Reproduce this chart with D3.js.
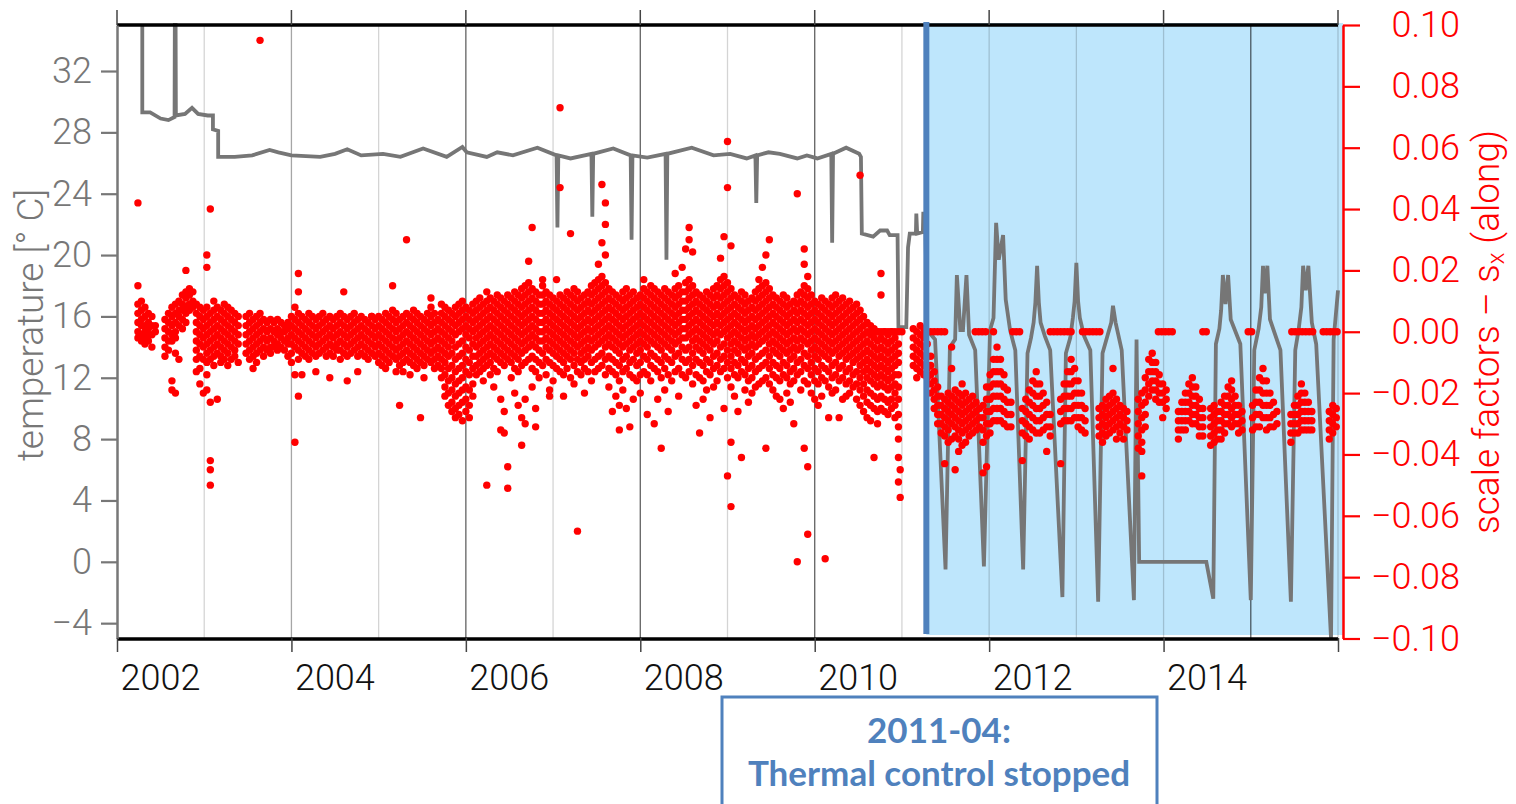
<!DOCTYPE html>
<html>
<head>
<meta charset="utf-8">
<title>Thermal control stopped</title>
<script src="https://d3js.org/d3.v7.min.js"></script>
<style>
*{margin:0;padding:0;}
body{background:#fff;}
svg{display:block;}
.ax text{font-family:Roboto,"Liberation Sans",Arial,sans-serif;font-weight:300;font-size:36px;}
.note{font-family:Lato,"Open Sans",sans-serif;font-weight:bold;font-size:35px;fill:#4f81bd;}
</style>
</head>
<body>
<svg id="chart" width="1516" height="804"></svg>
<script>
// temperature (left axis), [year, deg C]
var tempSeries = [
[2002.29,35],[2002.29,29.3],[2002.38,29.3],[2002.50,28.9],[2002.59,28.8],[2002.66,29.0],[2002.663,35],[2002.672,35],[2002.675,29.1],
[2002.78,29.2],[2002.86,29.6],[2002.93,29.2],[2003.04,29.1],[2003.10,29.1],[2003.10,28.2],[2003.16,28.1],[2003.16,26.4],
[2003.35,26.4],[2003.55,26.5],[2003.75,26.85],[2003.85,26.7],[2004.0,26.5],[2004.33,26.4],[2004.5,26.6],[2004.64,26.9],
[2004.8,26.5],[2005.05,26.6],[2005.25,26.4],[2005.51,26.95],[2005.78,26.4],[2005.96,27.05],[2006.01,26.7],[2006.24,26.4],
[2006.36,26.7],[2006.54,26.5],[2006.82,27.0],[2007.04,26.5],[2007.05,21.8],[2007.06,26.5],[2007.2,26.3],[2007.44,26.6],
[2007.45,22.5],[2007.46,26.6],[2007.69,26.95],[2007.89,26.5],[2007.9,21.0],[2007.91,26.5],[2008.08,26.35],[2008.29,26.6],
[2008.3,19.7],[2008.31,26.6],[2008.59,27.0],[2008.84,26.5],[2009.03,26.6],[2009.22,26.3],[2009.32,26.5],[2009.33,23.4],
[2009.34,26.5],[2009.47,26.7],[2009.6,26.6],[2009.8,26.3],[2009.91,26.5],[2010.03,26.3],[2010.19,26.6],[2010.2,20.8],
[2010.21,26.6],[2010.36,27.0],[2010.51,26.6],[2010.53,26.4],[2010.54,21.4],[2010.67,21.2],[2010.75,21.6],[2010.83,21.6],
[2010.86,21.3],[2010.95,21.3],[2010.96,15.3],[2011.05,15.3],[2011.07,20.5],[2011.09,21.4],[2011.16,21.4],[2011.165,22.7],
[2011.175,21.4],[2011.24,21.5],[2011.245,22.7],[2011.265,22.7],[2011.27,21.5],[2011.29,15.1],
[2011.38,14.5],[2011.50,-0.5],[2011.55,14.0],[2011.61,14.5],[2011.63,18.7],[2011.67,15.1],[2011.70,15.1],[2011.74,18.7],
[2011.77,14.8],[2011.84,13.8],[2011.94,-0.3],[2012.01,15.1],[2012.05,15.9],[2012.08,22.1],[2012.11,19.7],[2012.16,21.3],
[2012.19,17.1],[2012.24,15.1],[2012.30,13.8],[2012.39,-0.5],[2012.44,13.6],[2012.48,14.6],[2012.51,15.6],[2012.53,16.9],
[2012.55,19.3],[2012.57,16.9],[2012.59,15.6],[2012.64,14.7],[2012.70,13.8],[2012.84,-2.3],[2012.88,13.6],[2012.93,14.6],
[2012.96,15.9],[2012.98,17.0],[2013.00,19.5],[2013.02,17.0],[2013.04,15.9],[2013.09,14.7],[2013.16,13.8],[2013.25,-2.6],
[2013.30,13.6],[2013.36,14.8],[2013.40,15.6],[2013.42,16.7],[2013.45,15.6],[2013.52,13.8],[2013.66,-2.5],[2013.69,14.5],
[2013.72,0.0],[2014.49,0.0],[2014.57,-2.4],[2014.60,14.2],[2014.64,15.2],[2014.66,16.4],[2014.68,18.7],[2014.71,16.8],
[2014.74,18.7],[2014.77,15.8],[2014.88,14.2],[2015.00,-2.5],[2015.04,13.8],[2015.09,15.2],[2015.12,16.6],[2015.14,19.3],
[2015.16,17.5],[2015.19,19.3],[2015.22,15.8],[2015.34,13.8],[2015.46,-2.6],[2015.51,13.8],[2015.55,15.2],[2015.58,16.6],
[2015.60,19.3],[2015.63,17.7],[2015.66,19.3],[2015.70,15.6],[2015.75,14.2],[2015.92,-5],[2015.95,14.5],[2016.0,17.7]
];

// scale factors s_x (right axis), [year, values in 1e-3]
var sfCloud = [
[2002.24,[9,6,3,0,-2,15,42]],[2002.28,[10,7,4,2,-1,-3]],[2002.32,[8,5,2,0,-2,-4]],[2002.36,[6,3,1,-1,-3]],[2002.40,[5,2,-1,-5]],[2002.44,[2,0]],
[2002.55,[4,1,-2,-5,-8]],[2002.59,[6,3,0,-3,-6]],[2002.63,[8,5,2,-1,-3,-16,-19]],[2002.67,[9,6,3,0,-2,-7,-20]],[2002.71,[10,7,5,2,-9]],
[2002.75,[12,9,7,4,1]],[2002.79,[13,11,8,6,3,20]],[2002.83,[14,12,9,7]],[2002.87,[13,10,8]],
[2002.91,[9,6,3,0,-3,-6,-9,-13]],[2002.95,[8,5,2,-1,-4,-8,-12,-17]],[2002.99,[7,4,1,-2,-5,-9,-20]],[2003.03,[8,5,2,-1,-4,-7,-10,-14,-19,25,21]],
[2003.07,[6,3,0,-3,-6,-9,-23,40,-42,-45,-50]],[2003.11,[10,7,4,1,-2,-5,-8,-11]],[2003.15,[8,5,2,-1,-4,-7,-22]],[2003.19,[7,4,1,-2,-5,-8,-10]],
[2003.23,[9,6,3,0,-3,-6,-9]],[2003.27,[8,5,2,-1,-4,-7,-11]],[2003.31,[7,4,1,-2,-5,-9]],[2003.35,[6,3,0,-3,-6,-8]],[2003.39,[5,2,-1,-4,-10]],
[2003.48,[5,2,-1,-4,-7]],[2003.52,[6,3,0,-3,-6,-9]],[2003.56,[4,1,-2,-5,-8,-12]],[2003.60,[5,2,-1,-4,-7,-10]],[2003.64,[6,3,0,-3,-6,95]],
[2003.68,[4,1,-2,-5,-8]],[2003.72,[3,0,-3,-6]],[2003.76,[4,1,-2,-5,-7]],[2003.80,[3,0,-3,-5]],[2003.84,[4,1,-1,-4,-6]],[2003.88,[3,0,-2,-5]],
[2003.92,[2,0,-3,-6]],[2003.96,[3,1,-2,-4,-8]],[2004.00,[5,2,-1,-4,-7,-10]],[2004.04,[8,4,1,-2,-5,-14,-36]],
[2004.08,[6,3,0,-3,-6,-9,-21,19,13]],[2004.12,[5,2,-1,-4,-7,-14]],[2004.16,[4,1,-2,-5,-8]],[2004.20,[6,3,0,-3,-6,-9]],[2004.24,[5,2,-1,-4,-7]],
[2004.28,[4,1,-2,-5,-8,-13]],[2004.32,[5,2,-1,-4,-7]],[2004.36,[6,3,0,-3,-6]],[2004.40,[4,1,-2,-5,-8]],[2004.44,[5,2,-1,-4,-7,-15]],
[2004.48,[4,1,-2,-5,-8]],[2004.52,[5,2,-1,-4,-6]],[2004.56,[6,3,0,-3,-6,-9]],[2004.60,[5,2,-1,-4,-7,13]],[2004.64,[4,1,-2,-5,-8,-16]],
[2004.68,[5,2,-1,-4,-7]],[2004.72,[6,3,0,-3,-6]],[2004.76,[4,1,-2,-5,-8,-13]],[2004.80,[5,2,-1,-4,-7]],[2004.84,[4,1,-2,-5,-8]],
[2004.88,[3,0,-3,-6,-9]],[2004.92,[5,2,-1,-4,-7,5]],[2004.96,[4,1,-2,-5,-8]],
[2005.00,[5,2,-1,-4,-7,-10]],[2005.04,[4,1,-2,-5,-8,-11]],[2005.08,[6,3,0,-3,-6,-9,-12]],[2005.12,[5,2,-1,-4,-7,-10]],[2005.16,[7,4,1,-2,-5,-8,15]],
[2005.20,[6,3,0,-3,-6,-9,-13]],[2005.24,[4,1,-2,-5,-8,-11,-24]],[2005.28,[5,2,-1,-4,-7,-10,-13]],[2005.32,[6,3,0,-3,-6,-9,30]],
[2005.36,[5,2,-1,-4,-7,-10,-14]],[2005.40,[7,4,1,-2,-5,-8,-11]],[2005.44,[6,3,0,-3,-6,-9,-12]],[2005.48,[5,2,-1,-4,-7,-10,-28]],
[2005.52,[4,1,-2,-5,-8,-11,-15]],[2005.56,[6,3,0,-3,-6,-9]],[2005.60,[8,5,2,-1,-4,-7,-10,11]],[2005.64,[6,3,0,-3,-6,-9,-12]],[2005.68,[4,1,-2,-5,-8,-11]],
[2005.72,[9,6,3,0,-3,-6,-9,-12,-15]],[2005.76,[8,5,2,-1,-4,-7,-10,-14,-18,-21]],[2005.80,[7,4,1,-2,-5,-8,-12,-16,-20,-24]],
[2005.84,[6,3,0,-3,-7,-11,-15,-19,-23,-26]],[2005.88,[8,5,2,-1,-5,-9,-13,-17,-21,-25,-28]],[2005.92,[9,6,3,0,-4,-8,-12,-16,-20,-24,-27]],
[2005.96,[10,7,4,1,-3,-7,-11,-15,-19,-23,-29]],[2006.00,[8,5,2,-1,-5,-9,-13,-18,-22,-26]],[2006.04,[7,4,1,-2,-6,-10,-14,-19,-24,-28]],
[2006.08,[9,6,3,0,-4,-8,-12,-17,-21]],
[2006.12,[10,7,4,1,-2,-5,-8,-11,-14]],[2006.16,[11,8,5,2,-1,-4,-7,-10,-13]],[2006.20,[9,6,3,0,-3,-6,-9,-12,-16]],[2006.24,[13,10,7,4,1,-2,-5,-8,-11,-50]],
[2006.28,[11,8,5,2,-1,-4,-7,-10,-14]],[2006.32,[10,7,4,1,-2,-5,-8,-12,-18]],[2006.36,[12,9,6,3,0,-3,-6,-9,-13]],[2006.40,[11,8,5,2,-1,-4,-7,-10,-32,-22]],
[2006.44,[10,7,4,1,-2,-5,-8,-11,-33,-26]],[2006.48,[12,9,6,3,0,-3,-6,-9,-44,-51]],[2006.52,[11,8,5,2,-1,-4,-7,-10,-15]],[2006.56,[13,10,7,4,1,-2,-5,-8,-12,-20]],
[2006.60,[12,9,6,3,0,-3,-6,-9,-13,-24]],[2006.64,[14,11,8,5,2,-1,-4,-7,-11,-28,-37]],[2006.68,[15,12,9,6,3,0,-3,-6,-10,-22,-30]],[2006.72,[16,13,10,7,4,1,-2,-5,-9,23]],
[2006.76,[14,11,8,5,2,-1,-4,-8,-12,-18,34]],[2006.80,[13,10,7,4,1,-2,-5,-9,-13,-25,-31]],[2006.84,[12,9,6,3,0,-3,-6,-10,-15]],[2006.88,[15,12,9,6,3,0,-3,-7,-11,17]],
[2006.92,[13,10,7,4,1,-2,-5,-9,-14]],[2006.96,[12,9,6,3,0,-3,-6,-10,-19,-21]],[2007.00,[11,8,5,2,-1,-4,-7,-11,-16]],[2007.04,[10,7,4,1,-2,-5,-8,-12,17]],
[2007.08,[12,9,6,3,0,-3,-6,-9,-13,47,73]],[2007.12,[11,8,5,2,-1,-4,-7,-10,-14,-21]],[2007.16,[13,10,7,4,1,-2,-5,-8,-12]],[2007.20,[12,9,6,3,0,-3,-6,-9,-15,32]],
[2007.24,[14,11,8,5,2,-1,-4,-7,-11,-17]],[2007.28,[13,10,7,4,1,-2,-5,-9,-13,-65]],[2007.32,[11,8,5,2,-1,-4,-7,-10,-14]],[2007.36,[12,9,6,3,0,-3,-6,-9,-12,-20]],
[2007.40,[13,10,7,4,1,-2,-5,-8,-13]],[2007.44,[15,12,9,6,3,0,-3,-6,-10,-16]],[2007.48,[16,13,10,7,4,1,-2,-5,-9,-13]],[2007.52,[17,14,11,8,5,2,-1,-4,-8,-12,22]],
[2007.56,[18,15,12,9,6,3,0,-3,-7,-11,29,48]],[2007.60,[16,13,10,7,4,1,-2,-5,-9,-14,42,35,25]],[2007.64,[14,11,8,5,2,-1,-4,-8,-12,-18]],[2007.68,[13,10,7,4,1,-2,-5,-9,-13,-26]],
[2007.72,[12,9,6,3,0,-3,-6,-10,-14,-21]],[2007.76,[11,8,5,2,-1,-4,-7,-11,-16,-24,-32]],[2007.80,[13,10,7,4,1,-2,-5,-9,-13,-19]],[2007.84,[14,11,8,5,2,-1,-4,-8,-12,-25]],
[2007.88,[12,9,6,3,0,-3,-6,-10,-14,-31]],[2007.92,[13,10,7,4,1,-2,-5,-9,-15,-22]],[2007.96,[11,8,5,2,-1,-4,-7,-11,-16]],
[2008.00,[12,9,6,3,0,-3,-6,-10,-14,-20]],[2008.04,[14,11,8,5,2,-1,-4,-8,-13,17]],[2008.08,[13,10,7,4,1,-2,-5,-9,-14,-27]],[2008.12,[15,12,9,6,3,0,-3,-7,-11,-16]],
[2008.16,[14,11,8,5,2,-1,-4,-8,-12,-30]],[2008.20,[13,10,7,4,1,-2,-5,-9,-13,-22]],[2008.24,[12,9,6,3,0,-3,-6,-10,-15,-38]],[2008.28,[14,11,8,5,2,-1,-4,-8,-12,-19]],
[2008.32,[13,10,7,4,1,-2,-5,-9,-14,-26]],[2008.36,[12,9,6,3,0,-3,-6,-10,-16]],[2008.40,[14,11,8,5,2,-1,-4,-8,-13,19]],[2008.44,[15,12,9,6,3,0,-3,-7,-12,-21]],
[2008.48,[13,10,7,4,1,-2,-5,-9,-14,21]],[2008.52,[16,13,10,7,4,1,-2,-6,-10,-15,27]],[2008.56,[17,14,11,8,5,2,-1,-5,-9,-13,34,30]],[2008.60,[15,12,9,6,3,0,-3,-7,-11,-17,26]],
[2008.64,[13,10,7,4,1,-2,-5,-9,-14,-24]],[2008.68,[12,9,6,3,0,-3,-6,-10,-15,-33]],[2008.72,[11,8,5,2,-1,-4,-7,-11,-16,-22]],[2008.76,[13,10,7,4,1,-2,-5,-9,-13,-19]],
[2008.80,[12,9,6,3,0,-3,-6,-10,-14,-28]],[2008.84,[14,11,8,5,2,-1,-4,-8,-12,-18]],[2008.88,[15,12,9,6,3,0,-3,-7,-11,-16]],[2008.92,[17,14,11,8,5,2,-1,-5,-9,-13,24]],
[2008.96,[18,15,12,9,6,3,0,-4,-8,-12,31,-25]],[2009.00,[16,13,10,7,4,1,-2,-6,-10,-15,47,62,-47]],[2009.04,[14,11,8,5,2,-1,-4,-8,-12,-18,28,-57,-36]],
[2009.08,[12,9,6,3,0,-3,-6,-10,-14,-21]],[2009.12,[11,8,5,2,-1,-4,-7,-11,-15,-26]],[2009.16,[13,10,7,4,1,-2,-5,-9,-13,-41]],[2009.20,[12,9,6,3,0,-3,-6,-10,-14,-19]],
[2009.24,[10,7,4,1,-2,-5,-8,-12,-16,-23]],[2009.28,[11,8,5,2,-1,-4,-7,-11,-15,-20]],[2009.32,[13,10,7,4,1,-2,-5,-9,-13,-18]],[2009.36,[14,11,8,5,2,-1,-4,-8,-12,-17,17]],
[2009.40,[15,12,9,6,3,0,-3,-7,-11,-16,21]],[2009.44,[16,13,10,7,4,1,-2,-6,-10,-15,25,-38]],[2009.48,[14,11,8,5,2,-1,-4,-8,-12,-17,30]],[2009.52,[12,9,6,3,0,-3,-6,-10,-14,-19]],
[2009.56,[11,8,5,2,-1,-4,-7,-11,-15,-21]],[2009.60,[10,7,4,1,-2,-5,-8,-12,-16,-22]],[2009.64,[12,9,6,3,0,-3,-6,-10,-14,-25]],[2009.68,[11,8,5,2,-1,-4,-7,-11,-15,-20]],
[2009.72,[9,6,3,0,-3,-6,-9,-13,-17,-23]],[2009.76,[10,7,4,1,-2,-5,-8,-12,-16,-30]],[2009.80,[12,9,6,3,0,-3,-6,-10,-14,45,-75]],[2009.84,[13,10,7,4,1,-2,-5,-9,-13,-19]],
[2009.88,[15,12,9,6,3,0,-3,-7,-11,-16,27,22,-38]],[2009.92,[14,11,8,5,2,-1,-4,-8,-12,-17,18,-44,-66]],[2009.96,[12,9,6,3,0,-3,-6,-10,-14,-20]],
[2010.00,[10,7,4,1,-2,-5,-8,-12,-16,-22]],[2010.04,[9,6,3,0,-3,-6,-9,-13,-17,-24]],[2010.08,[11,8,5,2,-1,-4,-7,-11,-15,-21]],[2010.12,[10,7,4,1,-2,-5,-8,-12,-16,-74]],
[2010.16,[9,6,3,0,-3,-6,-9,-13,-18,-28]],[2010.20,[11,8,5,2,-1,-4,-7,-11,-15,-20]],[2010.24,[12,9,6,3,0,-3,-6,-10,-14,-19]],[2010.28,[10,7,4,1,-2,-5,-8,-12,-16,-28]],
[2010.32,[11,8,5,2,-1,-4,-7,-11,-15,-22]],[2010.36,[9,6,3,0,-3,-6,-9,-13,-17,-21]],[2010.40,[10,7,4,1,-2,-5,-8,-12,-16,-20]],[2010.44,[8,5,2,-1,-4,-7,-10,-14,-18]],
[2010.48,[9,6,3,0,-3,-6,-9,-13,-17,-22]],[2010.52,[7,4,1,-2,-5,-8,-11,-15,-19,-24,51]],[2010.56,[5,2,-1,-4,-7,-10,-13,-17,-21,-26]],[2010.60,[3,0,-3,-6,-9,-12,-15,-19,-23,-28]],
[2010.64,[2,-1,-4,-7,-10,-13,-16,-20,-24,-29]],[2010.68,[1,-2,-5,-8,-11,-14,-17,-21,-25,-41]],[2010.72,[0,-3,-6,-9,-12,-15,-18,-22,-26,-30]],[2010.76,[19,12,-2,-5,-8,-11,-14,-17,-21,-25]],
[2010.80,[0,-3,-6,-9,-12,-15,-18,-22,-26]],[2010.84,[-1,-4,-7,-10,-13,-16,-19,-23,-27]],[2010.88,[0,-3,-6,-9,-12,-15,-18,-22,-25]],[2010.92,[-2,-5,-8,-11,-14,-17,-20,-24,-28]],
[2010.96,[-4,-7,-10,-14,-18,-22,-27,-31,-35,-41,-49]],[2010.98,[-45,-54]],
[2011.13,[1,-2,-5,-8,-11]],[2011.17,[0,-3,-6,-9,-12,-15]],[2011.21,[2,-1,-4,-7,-10,-13]],[2011.25,[1,-2,-5,-8,-11,-14]],[2011.29,[-4,-8,-12,-15]],
[2011.33,[-8,-11,-14,-17,-20]],[2011.37,[-13,-16,-19,-22,-25]],[2011.41,[-18,-21,-24,-27,-30]],[2011.45,[-21,-24,-27,-30,-33]],[2011.49,[-22,-25,-28,-31,-34,-43]],
[2011.53,[-20,-23,-26,-29,-32,-36]],[2011.57,[-5,-12,-21,-24,-27,-30,-35]],[2011.61,[-19,-22,-25,-28,-31,-34,-45]],[2011.65,[-20,-23,-26,-29,-32,-35,-39]],
[2011.69,[-17,-21,-24,-27,-30,-33,-37]],[2011.73,[-20,-23,-26,-29,-32,-36]],[2011.77,[-22,-25,-28,-31,-34]],[2011.81,[-21,-24,-27,-30,-33]],[2011.85,[-23,-26,-29,-32]],[2011.89,[-25,-28,-31]],
[2011.93,[-24,-28,-32,-36,-46]],[2011.97,[-18,-22,-26,-30,-34,-44]],[2012.01,[-14,-18,-22,-26,-30,-33]],[2012.05,[-9,-13,-17,-21,-25,-29]],[2012.09,[-5,-9,-13,-17,-21,-25,-29]],
[2012.13,[-9,-13,-17,-21,-25,-29]],[2012.17,[-14,-18,-22,-26,-30]],[2012.21,[-19,-23,-27,-31]],[2012.25,[-23,-27,-31]],
[2012.38,[-25,-29,-33,-42]],[2012.42,[-22,-26,-30,-34]],[2012.46,[-19,-23,-27,-31,-35]],[2012.50,[-16,-20,-24,-28,-32]],[2012.54,[-13,-17,-21,-25,-29,-33]],
[2012.58,[-17,-21,-25,-29,-33]],[2012.62,[-20,-24,-28,-32]],[2012.66,[-23,-27,-31,-39]],[2012.70,[-27,-31,-34]],
[2012.82,[-22,-26,-30,-43]],[2012.86,[-17,-21,-25,-29]],[2012.90,[-13,-17,-21,-25,-29]],[2012.94,[-9,-13,-17,-21,-25,-29]],[2012.98,[-12,-16,-20,-24,-28]],
[2013.02,[-16,-20,-24,-28,-31]],[2013.06,[-20,-24,-28,-32]],[2013.10,[-25,-29,-33]],
[2013.26,[-25,-28,-31,-34]],[2013.30,[-24,-27,-30,-33,-36]],[2013.34,[-22,-25,-28,-31,-34]],[2013.38,[-21,-24,-27,-30,-33]],[2013.42,[-12,-20,-23,-26,-29,-32]],
[2013.46,[-22,-25,-28,-31,-35]],[2013.50,[-24,-27,-30,-33]],[2013.54,[-25,-28,-31,-35]],[2013.58,[-26,-29,-32]],
[2013.71,[-22,-26,-30,-34,-38]],[2013.75,[-20,-24,-28,-32,-36,-39,-47]],[2013.79,[-15,-19,-23,-27,-31]],
[2013.83,[-9,-13,-17,-21]],[2013.87,[-7,-10,-13,-16,-19]],[2013.91,[-10,-13,-16,-19,-22]],[2013.95,[-14,-17,-20,-23]],[2013.99,[-17,-20,-23,-28]],[2014.03,[-19,-22,-25]],
[2014.17,[-26,-29,-32,-35]],[2014.21,[-23,-26,-29,-32]],[2014.25,[-20,-23,-26,-29,-32]],[2014.29,[-17,-20,-23,-26,-29]],[2014.33,[-15,-18,-21,-24,-27,-30]],
[2014.37,[-18,-21,-24,-27,-30]],[2014.41,[-22,-25,-28,-31,-34]],[2014.45,[-25,-28,-31,-34]],
[2014.54,[-25,-28,-31,-34,-37]],[2014.58,[-24,-27,-30,-33,-36]],[2014.62,[-26,-29,-32,-35]],[2014.66,[-23,-26,-29,-32,-35]],[2014.70,[-21,-24,-27,-30,-33]],
[2014.74,[-18,-21,-24,-27,-30]],[2014.78,[-16,-19,-22,-25,-28,-31]],[2014.82,[-21,-24,-27,-30]],[2014.86,[-24,-27,-30,-33]],[2014.90,[-26,-29,-32]],
[2015.02,[-24,-28,-32]],[2015.06,[-19,-23,-27,-31]],[2015.10,[-15,-19,-23,-27,-31]],[2015.14,[-12,-16,-20,-24,-28]],[2015.18,[-16,-20,-24,-28,-32]],
[2015.22,[-20,-24,-28,-31]],[2015.26,[-23,-27,-31]],[2015.30,[-26,-30]],
[2015.46,[-27,-30,-33,-36]],[2015.50,[-24,-27,-30,-33]],[2015.54,[-21,-24,-27,-30,-33]],[2015.58,[-17,-20,-23,-26,-29,-32]],[2015.62,[-20,-23,-26,-29,-32]],
[2015.66,[-23,-26,-29,-32]],[2015.70,[-26,-29,-32]],
[2015.90,[-26,-29,-32,-35]],[2015.94,[-24,-27,-30,-33]],[2015.98,[-25,-28,-31]]
];

// scale factors fixed at exactly 0
var sfZeroYears = [2010.64,2010.68,2010.72,2010.76,2010.80,2010.84,2010.88,2010.92,2010.96,2011.00,2011.27,
2011.33,2011.37,2011.41,2011.45,2011.49,2011.84,2011.88,2011.92,2011.96,2012.05,2012.27,2012.31,2012.35,
2012.70,2012.74,2012.78,2012.82,2012.86,2012.90,2012.94,2013.07,2013.11,2013.15,2013.19,2013.23,2013.27,
2013.94,2013.98,2014.02,2014.06,2014.10,2014.45,2014.49,2014.97,2015.01,
2015.47,2015.51,2015.55,2015.59,2015.63,2015.67,2015.71,2015.83,2015.87,2015.91,2015.95,2015.99];

var tempTicks = [-4,0,4,8,12,16,20,24,28,32];
var sfTicks = [-0.10,-0.08,-0.06,-0.04,-0.02,0,0.02,0.04,0.06,0.08,0.10];
var yearTicks = [2002,2004,2006,2008,2010,2012,2014,2016];
var gridYears = [2003,2004,2005,2006,2007,2008,2009,2010,2011,2012,2013,2014,2015,2016];
var stopYear = 2011.28;
var noteLines = ["2011-04:", "Thermal control stopped"];

var svg = d3.select("#chart");
var x = d3.scaleLinear().domain([2002, 2016]).range([117, 1338]),
	yT = d3.scaleLinear().domain([-5, 35]).range([638.5, 25]),
	yS = d3.scaleLinear().domain([-0.1, 0.1]).range([638.5, 25]);

// shaded period after thermal control stopped
svg.append("rect")
	.attr("x", x(stopYear)).attr("y", 23)
	.attr("width", 1343 - x(stopYear)).attr("height", 612)
	.attr("fill", "#bee6fc");

// year grid lines
function gridColor(d){
	if([2006,2008,2010,2015].indexOf(d) > -1) return "rgba(0,0,0,0.62)";
	if(d == 2004) return "rgba(0,0,0,0.35)";
	return "rgba(0,0,0,0.17)";
}
svg.append("g").selectAll("line")
	.data(gridYears).enter().append("line")
	.attr("x1", x).attr("x2", x)
	.attr("y1", 25).attr("y2", 638)
	.attr("stroke", gridColor).attr("stroke-width", 1.3);

// temperature line
var line = d3.line().x(function(d){ return x(d[0]); }).y(function(d){ return yT(d[1]); });
svg.append("path")
	.datum(tempSeries)
	.attr("d", line)
	.attr("fill", "none")
	.attr("stroke", "#767676")
	.attr("stroke-width", 3.8);

// scale factor dots
var dots = [];
sfCloud.forEach(function(c){
	c[1].forEach(function(v){ dots.push([c[0], v / 1000]); });
});
sfZeroYears.forEach(function(t){ dots.push([t, 0]); });
svg.append("g").selectAll("circle")
	.data(dots).enter().append("circle")
	.attr("cx", function(d){ return x(d[0]); })
	.attr("cy", function(d){ return yS(d[1]); })
	.attr("r", 3.7)
	.attr("fill", "#ff0000");

// top and bottom frame
svg.append("line").attr("x1", 117).attr("x2", 1338).attr("y1", 25).attr("y2", 25)
	.attr("stroke", "#000").attr("stroke-width", 3.5);
svg.append("line").attr("x1", 117).attr("x2", 1338).attr("y1", 639).attr("y2", 639)
	.attr("stroke", "#000").attr("stroke-width", 3.5);

// left axis
var gL = svg.append("g").attr("class", "ax").attr("transform", "translate(117,0)")
	.call(d3.axisLeft(yT).tickValues(tempTicks).tickSize(16).tickSizeOuter(0).tickPadding(9));
gL.select(".domain").attr("stroke", "#777").attr("stroke-width", 2.5);
gL.selectAll(".tick line").attr("stroke", "#777").attr("stroke-width", 2.2);
gL.selectAll(".tick text").attr("fill", "#777").attr("font-size", null);

// right axis
var gR = svg.append("g").attr("class", "ax").attr("transform", "translate(1343,0)")
	.call(d3.axisRight(yS).tickValues(sfTicks).tickSize(17).tickSizeOuter(0).tickFormat(d3.format(".2f")));
gR.select(".domain").attr("stroke", "#ff0000").attr("stroke-width", 2.5);
gR.selectAll(".tick line").attr("stroke", "#ff0000").attr("stroke-width", 2.2);
gR.selectAll(".tick text").attr("fill", "#ff0000").attr("font-size", null)
	.attr("text-anchor", "end").attr("x", 117);

// bottom axis, labels start at the tick
var gB = svg.append("g").attr("class", "ax").attr("transform", "translate(0,638)")
	.call(d3.axisBottom(x).tickValues(yearTicks).tickSize(14).tickSizeOuter(0)
		.tickFormat(function(d){ return d < 2016 ? d : ""; }));
gB.select(".domain").remove();
gB.selectAll(".tick line").attr("stroke", "#444").attr("stroke-width", 1.5);
gB.selectAll(".tick text").attr("fill", "#111").attr("font-size", null)
	.attr("text-anchor", "start").attr("x", 3).attr("dy", null).attr("y", 52);

// ticks above the frame
svg.append("g").selectAll("line")
	.data(yearTicks).enter().append("line")
	.attr("x1", x).attr("x2", x).attr("y1", 10).attr("y2", 25)
	.attr("stroke", "#444").attr("stroke-width", 1.5);

// thermal control stop marker
svg.append("rect")
	.attr("x", x(stopYear) - 3).attr("y", 22)
	.attr("width", 6).attr("height", 612)
	.attr("fill", "#4f81bd");

// axis titles
var tL = svg.append("g").attr("class", "ax");
tL.append("text")
	.attr("transform", "translate(43,325) rotate(-90)")
	.attr("text-anchor", "middle")
	.attr("fill", "#777")
	.style("font-size", "37px")
	.text("temperature [° C]");
var tR = svg.append("g").attr("class", "ax").append("text")
	.attr("transform", "translate(1499,332) rotate(-90)")
	.attr("text-anchor", "middle")
	.attr("fill", "#ff0000")
	.style("font-size", "37px");
tR.append("tspan").text("scale factors – s");
tR.append("tspan").attr("dy", 5).style("font-size", "24px").text("x");
tR.append("tspan").attr("dy", -5).text(" (along)");

// annotation box
svg.append("rect")
	.attr("x", 722).attr("y", 697).attr("width", 435).attr("height", 140)
	.attr("fill", "#fff").attr("stroke", "#4f81bd").attr("stroke-width", 3);
svg.selectAll(".note")
	.data(noteLines).enter().append("text")
	.attr("class", "note")
	.attr("x", 939)
	.attr("y", function(d, i){ return 743 + i * 43; })
	.attr("text-anchor", "middle")
	.text(function(d){ return d; });
</script>
</body>
</html>
